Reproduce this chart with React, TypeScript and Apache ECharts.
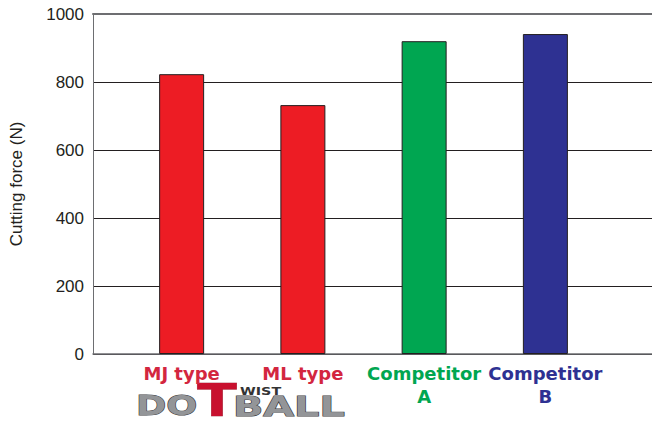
import React, { useEffect, useRef } from "react";
import * as echarts from "echarts";

const categories = ["MJ type", "ML type", "Competitor\nA", "Competitor\nB"];
const values = [823, 732, 920, 941];
const barColors = ["#ed1c24", "#ed1c24", "#00a651", "#2e3192"];
const labelColors = ["#d3263f", "#d3263f", "#00a651", "#2e3192"];
const yTicks = [0, 200, 400, 600, 800, 1000];
const yName = "Cutting force (N)";

export default function App() {
  const ref = useRef<HTMLDivElement>(null);
  useEffect(() => {
    document.body.style.margin = "0";
    if (!ref.current) return;
    const chart = echarts.init(ref.current, null, { renderer: "svg" });
    const logoFont = "DejaVu Sans";
    chart.setOption({
      animation: false,
      grid: [
        { left: 91, right: 0, top: 14, bottom: 67 },
        { left: 121, right: 46, top: 14, bottom: 67 },
      ],
      xAxis: [
        {
          gridIndex: 0,
          type: "category",
          data: [""],
          position: "bottom",
          axisLine: { show: true, lineStyle: { color: "#6d6e71", width: 1.5 } },
          axisTick: { show: false },
          axisLabel: { show: false },
        },
        {
          gridIndex: 0,
          type: "category",
          data: [""],
          position: "top",
          axisLine: { show: true, lineStyle: { color: "#6d6e71", width: 2 } },
          axisTick: { show: false },
          axisLabel: { show: false },
        },
        {
          gridIndex: 1,
          type: "category",
          data: categories,
          axisLine: { show: false },
          axisTick: { show: false },
          axisLabel: {
            interval: 0,
            margin: 8,
            fontFamily: "DejaVu Sans",
            fontWeight: "bold",
            fontSize: 18,
            lineHeight: 23,
            color: (_v: any, i: number) => labelColors[i],
          },
        },
      ],
      yAxis: [
        {
          gridIndex: 0,
          type: "value",
          min: yTicks[0],
          max: yTicks[yTicks.length - 1],
          interval: 200,
          name: yName,
          nameLocation: "middle",
          nameGap: 68,
          nameTextStyle: {
            fontSize: 17,
            color: "#231f20",
            fontFamily: "Liberation Sans",
          },
          axisLine: { show: true, lineStyle: { color: "#6d6e71", width: 1 } },
          axisTick: { show: false },
          axisLabel: {
            fontSize: 17,
            color: "#231f20",
            fontFamily: "Liberation Sans",
            margin: 9,
            formatter: (v: number) => String(v),
          },
          splitLine: { show: true, lineStyle: { color: "#231f20", width: 1 } },
        },
        {
          gridIndex: 1,
          type: "value",
          min: yTicks[0],
          max: yTicks[yTicks.length - 1],
          show: false,
          splitLine: { show: false },
        },
      ],
      series: [
        {
          type: "bar",
          xAxisIndex: 2,
          yAxisIndex: 1,
          barWidth: 45,
          data: values.map((v, i) => ({
            value: v,
            itemStyle: { color: barColors[i] },
          })),
          itemStyle: { borderColor: "#231f20", borderWidth: 1 },
        },
      ],
      graphic: [
        {
          type: "text",
          x: 136,
          y: 406,
          scaleX: 1.35,
          style: {
            text: "DO",
            fontFamily: logoFont,
            fontWeight: "bold",
            fontSize: 27,
            lineHeight: 20,
            fill: "#939598",
            stroke: "#414042",
            lineWidth: 1,
            textAlign: "left",
            textVerticalAlign: "middle",
          },
        },
        {
          type: "text",
          x: 197,
          y: 401,
          scaleX: 1.33,
          style: {
            text: "T",
            fontFamily: logoFont,
            fontWeight: "bold",
            fontSize: 44,
            lineHeight: 32,
            fill: "#c8102e",
            stroke: "#8a0c20",
            lineWidth: 0.5,
            textAlign: "left",
            textVerticalAlign: "middle",
          },
        },
        {
          type: "text",
          x: 240,
          y: 391,
          scaleX: 1.3,
          style: {
            text: "WIST",
            fontFamily: logoFont,
            fontWeight: "bold",
            fontSize: 11,
            lineHeight: 9,
            fill: "#333333",
            textAlign: "left",
            textVerticalAlign: "middle",
          },
        },
        {
          type: "text",
          x: 233,
          y: 407.5,
          scaleX: 1.53,
          style: {
            text: "BALL",
            fontFamily: logoFont,
            fontWeight: "bold",
            fontSize: 26,
            lineHeight: 19,
            fill: "#939598",
            stroke: "#414042",
            lineWidth: 1,
            textAlign: "left",
            textVerticalAlign: "middle",
          },
        },
      ],
    });
    return () => chart.dispose();
  }, []);
  return <div ref={ref} style={{ width: 652, height: 421 }} />;
}
